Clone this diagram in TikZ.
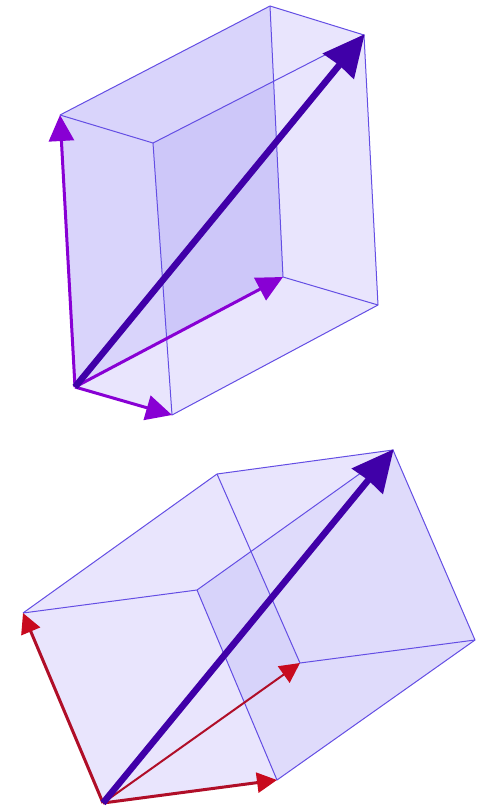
\documentclass[tikz,border=0pt]{standalone}
\usepackage{amsmath}
\usetikzlibrary{arrows.meta}
\definecolor{boxedge}{RGB}{100,78,228}
\definecolor{boxfill}{RGB}{233,229,253}
\definecolor{boxback}{RGB}{217,212,251}
\definecolor{boxmid}{RGB}{205,199,249}
\definecolor{lowfront}{RGB}{223,219,251}
\definecolor{lowmid}{RGB}{215,211,250}
\definecolor{diagcol}{RGB}{64,0,168}
\definecolor{vecpurple}{RGB}{136,0,212}
\definecolor{vecred}{RGB}{176,14,40}
\definecolor{tipred}{RGB}{200,10,30}
\tikzset{
  edge/.style={boxedge, line width=1pt, line join=round},
  diag/.style={diagcol, line width=6.5pt, -{Triangle[length=41pt,width=39pt,inset=1pt]}, shorten >=-1pt},
  vecs/.style={vecpurple, line width=3pt, -{Triangle[length=26pt,width=25pt]}},
  vecr/.style={vecred, -{Triangle[length=20pt,width=20pt,fill=tipred,color=tipred]}}
}
\begin{document}
\begin{tikzpicture}[x=1pt, y=-1pt]
        \useasboundingbox (0,0) rectangle (478,807);
        \fill[white] (0,0) rectangle (478,807);
        % upper box
        \coordinate (uO) at (75,387);
        \coordinate (uA) at (60,115);
        \coordinate (uB) at (172,415);
        \coordinate (uC) at (283,277);
        \coordinate (uD) at (270,6);
        \coordinate (uE) at (153,143);
        \coordinate (uF) at (364,35);
        \coordinate (uG) at (378,305);
        \fill[boxfill] (uO) -- (uA) -- (uD) -- (uF) -- (uG) -- (uB) -- cycle;
        \fill[boxback] (uO) -- (uA) -- (uD) -- (uC) -- cycle;
        \begin{scope}
            \clip (uO) -- (uA) -- (uD) -- (uC) -- cycle;
            \fill[boxmid] (uB) -- (uE) -- (uF) -- (uG) -- cycle;
        \end{scope}
        \draw[edge] (uA) -- (uD) -- (uF) -- (uG) -- (uB) -- (uE) -- (uA);
        \draw[edge] (uE) -- (uF);
        \draw[edge] (uD) -- (uC) -- (uG);
        \draw[vecs] (uO) -- (uA);
        \draw[vecs] (uO) -- (uC);
        \draw[vecs] (uO) -- (uB);
        \draw[diag] (uO) -- (uF);
        % lower box
        \coordinate (lO) at (103,803);
        \coordinate (lA) at (23,613);
        \coordinate (lB) at (277,780);
        \coordinate (lC) at (300,663);
        \coordinate (lD) at (217,474);
        \coordinate (lE) at (197,590);
        \coordinate (lF) at (393,450);
        \coordinate (lG) at (475,640);
        \fill[boxfill] (lO) -- (lA) -- (lD) -- (lF) -- (lG) -- (lB) -- cycle;
        \fill[lowfront] (lB) -- (lE) -- (lF) -- (lG) -- cycle;
        \begin{scope}
            \clip (lB) -- (lE) -- (lF) -- (lG) -- cycle;
            \fill[lowmid] (lO) -- (lA) -- (lD) -- (lC) -- cycle;
        \end{scope}
        \draw[edge] (lA) -- (lD) -- (lF) -- (lG) -- (lB) -- (lE) -- (lA);
        \draw[edge] (lE) -- (lF);
        \draw[edge] (lD) -- (lC) -- (lG);
        \draw[vecr, line width=3pt] (lO) -- (lA);
        \draw[vecr, line width=2pt] (lO) -- (lC);
        \draw[vecr, line width=3pt] (lO) -- (lB);
        \draw[diag] (lO) -- (lF);
\end{tikzpicture}
\end{document}
